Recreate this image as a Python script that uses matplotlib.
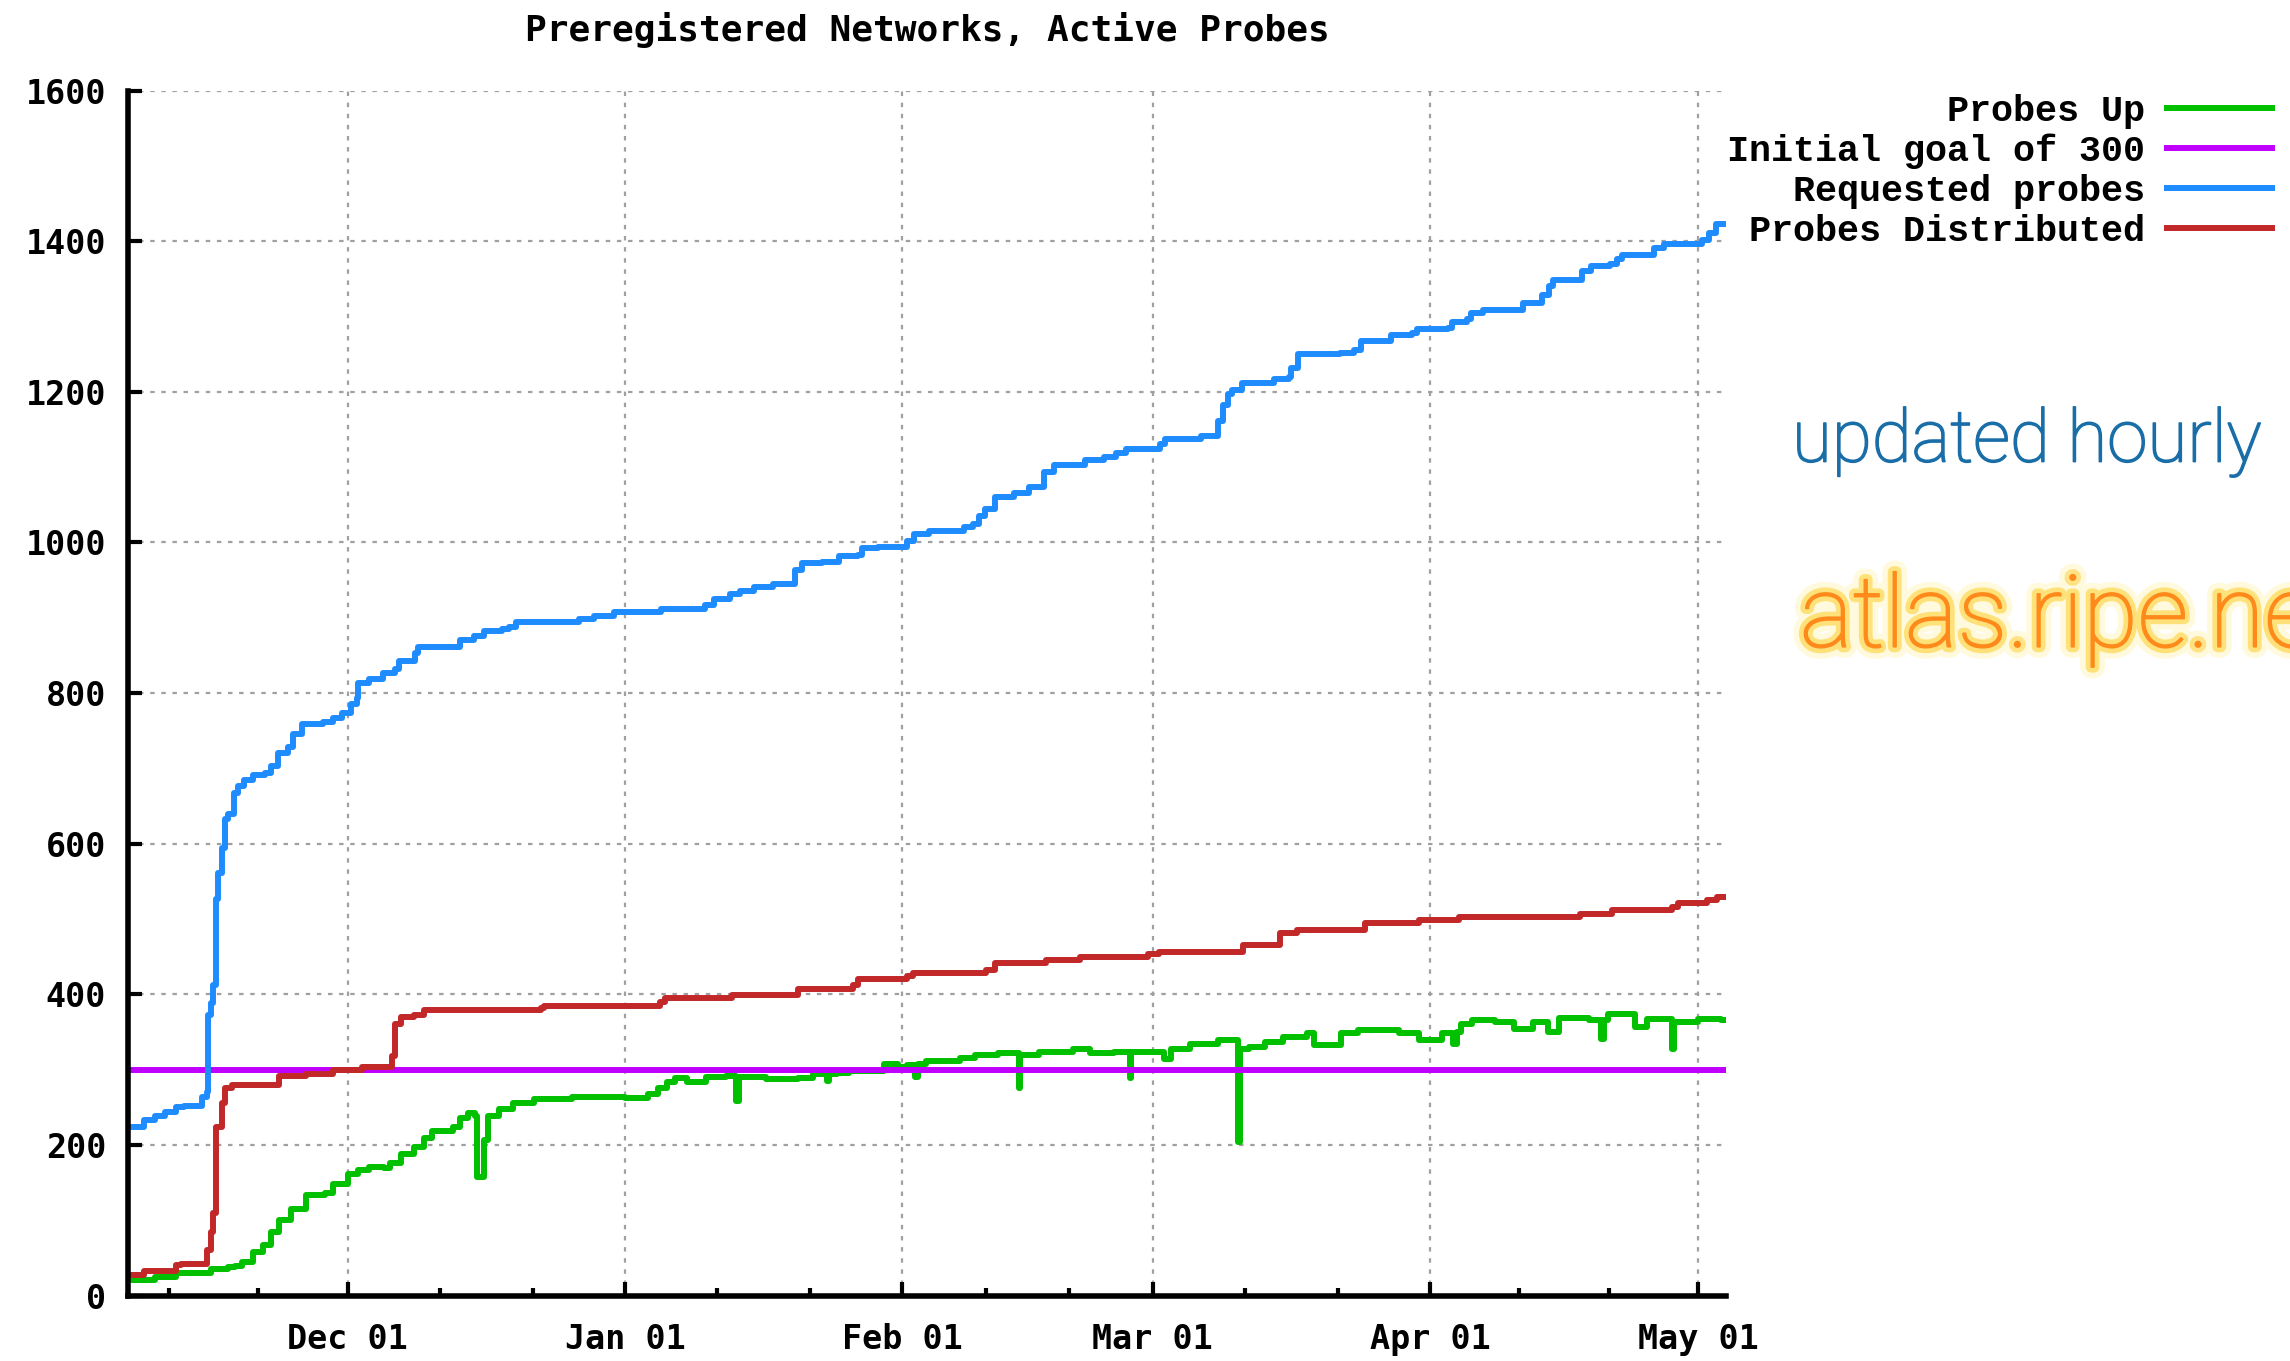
import numpy as np
import pandas as pd
import matplotlib.pyplot as plt
import matplotlib.dates as mdates
import matplotlib.patheffects as pe

# datos (hora aproximada, valor)
probes_up_dates = [
    '2010-11-06 12:00', '2010-11-09 10:00', '2010-11-11 19:00', '2010-11-15 17:00',
    '2010-11-17 16:00', '2010-11-18 10:00', '2010-11-19 05:00', '2010-11-20 10:00',
    '2010-11-21 14:00', '2010-11-22 10:00', '2010-11-23 08:00', '2010-11-24 17:00',
    '2010-11-26 07:00', '2010-11-28 11:00', '2010-11-29 10:00', '2010-12-01 00:00',
    '2010-12-02 05:00', '2010-12-03 08:00', '2010-12-05 02:00', '2010-12-05 17:00',
    '2010-12-06 22:00', '2010-12-08 11:00', '2010-12-09 14:00', '2010-12-10 10:00',
    '2010-12-12 19:00', '2010-12-13 14:00', '2010-12-14 12:00', '2010-12-15 07:00',
    '2010-12-15 11:00', '2010-12-16 07:00', '2010-12-16 17:00', '2010-12-17 22:00',
    '2010-12-19 11:00', '2010-12-21 19:00', '2010-12-26 02:00', '2011-01-01 00:00',
    '2011-01-03 13:00', '2011-01-04 16:00', '2011-01-05 18:00', '2011-01-06 14:00',
    '2011-01-07 22:00', '2011-01-10 02:00', '2011-01-12 08:00', '2011-01-13 11:00',
    '2011-01-13 17:00', '2011-01-16 18:00', '2011-01-20 07:00', '2011-01-22 00:00',
    '2011-01-23 13:00', '2011-01-23 19:00', '2011-01-24 16:00', '2011-01-26 00:00',
    '2011-01-29 22:00', '2011-01-31 12:00', '2011-02-01 12:00', '2011-02-02 10:00',
    '2011-02-02 19:00', '2011-02-03 16:00', '2011-02-07 10:00', '2011-02-09 02:00',
    '2011-02-11 16:00', '2011-02-14 00:00', '2011-02-14 05:00', '2011-02-16 07:00',
    '2011-02-20 02:00', '2011-02-22 00:00', '2011-02-24 17:00', '2011-02-26 10:00',
    '2011-02-26 14:00', '2011-03-02 05:00', '2011-03-03 02:00', '2011-03-05 05:00',
    '2011-03-08 07:00', '2011-03-10 12:00', '2011-03-10 19:00', '2011-03-11 17:00',
    '2011-03-13 12:00', '2011-03-15 14:00', '2011-03-18 05:00', '2011-03-19 02:00',
    '2011-03-22 02:00', '2011-03-23 22:00', '2011-03-28 14:00', '2011-03-30 19:00',
    '2011-04-02 08:00', '2011-04-03 14:00', '2011-04-04 00:00', '2011-04-04 12:00',
    '2011-04-05 17:00', '2011-04-08 06:00', '2011-04-10 10:00', '2011-04-12 12:00',
    '2011-04-14 05:00', '2011-04-15 10:00', '2011-04-18 19:00', '2011-04-20 02:00',
    '2011-04-20 12:00', '2011-04-20 22:00', '2011-04-23 22:00', '2011-04-25 05:00',
    '2011-04-28 02:00', '2011-04-28 07:00', '2011-05-01 00:00', '2011-05-03 12:00',
    '2011-05-04 02:00',
]
probes_up = [
    21, 25, 30, 35, 38, 39, 45, 58, 67, 85, 100, 115, 133, 136, 148, 161,
    167, 171, 170, 176, 188, 197, 209, 218, 224, 236, 242, 239, 157, 206, 239, 248,
    255, 261, 264, 262, 267, 276, 284, 289, 284, 290, 292, 258, 290, 287, 289, 294,
    285, 294, 296, 298, 307, 303, 306, 290, 307, 311, 316, 320, 322, 276, 320, 324,
    327, 322, 324, 289, 324, 314, 328, 334, 339, 204, 328, 330, 337, 343, 348, 332,
    349, 352, 348, 339, 348, 334, 350, 361, 366, 363, 354, 363, 350, 368, 366, 341,
    366, 374, 357, 367, 328, 363, 367, 366, 366,
]

goal = 300

requested_dates = [
    '2010-11-06 12:00', '2010-11-08 05:00', '2010-11-09 10:00', '2010-11-10 14:00',
    '2010-11-11 19:00', '2010-11-12 18:00', '2010-11-14 17:00', '2010-11-15 07:00',
    '2010-11-15 10:00', '2010-11-15 17:00', '2010-11-16 00:00', '2010-11-16 07:00',
    '2010-11-16 13:00', '2010-11-16 22:00', '2010-11-17 07:00', '2010-11-17 16:00',
    '2010-11-18 06:00', '2010-11-18 19:00', '2010-11-19 10:00', '2010-11-20 10:00',
    '2010-11-21 19:00', '2010-11-22 10:00', '2010-11-23 04:00', '2010-11-24 07:00',
    '2010-11-24 22:00', '2010-11-25 22:00', '2010-11-28 06:00', '2010-11-29 10:00',
    '2010-11-30 10:00', '2010-12-01 10:00', '2010-12-02 00:00', '2010-12-02 05:00',
    '2010-12-03 08:00', '2010-12-04 22:00', '2010-12-06 07:00', '2010-12-06 17:00',
    '2010-12-08 12:00', '2010-12-08 20:00', '2010-12-13 14:00', '2010-12-15 02:00',
    '2010-12-16 07:00', '2010-12-18 07:00', '2010-12-19 01:00', '2010-12-19 20:00',
    '2010-12-26 22:00', '2010-12-28 12:00', '2010-12-30 19:00', '2011-01-05 02:00',
    '2011-01-09 22:00', '2011-01-11 00:00', '2011-01-12 19:00', '2011-01-13 22:00',
    '2011-01-15 10:00', '2011-01-17 14:00', '2011-01-20 00:00', '2011-01-20 20:00',
    '2011-01-23 01:00', '2011-01-24 22:00', '2011-01-27 02:00', '2011-01-27 12:00',
    '2011-01-29 07:00', '2011-02-01 14:00', '2011-02-02 07:00', '2011-02-04 00:00',
    '2011-02-07 22:00', '2011-02-08 22:00', '2011-02-09 14:00', '2011-02-10 07:00',
    '2011-02-11 10:00', '2011-02-13 13:00', '2011-02-15 05:00', '2011-02-16 19:00',
    '2011-02-17 22:00', '2011-02-21 10:00', '2011-02-23 14:00', '2011-02-24 22:00',
    '2011-02-26 00:00', '2011-03-01 19:00', '2011-03-02 08:00', '2011-03-06 10:00',
    '2011-03-08 07:00', '2011-03-08 20:00', '2011-03-09 10:00', '2011-03-09 22:00',
    '2011-03-11 00:00', '2011-03-14 13:00', '2011-03-16 05:00', '2011-03-16 11:00',
    '2011-03-17 07:00', '2011-03-21 22:00', '2011-03-23 12:00', '2011-03-24 07:00',
    '2011-03-27 14:00', '2011-03-30 00:00', '2011-03-30 12:00', '2011-04-03 00:00',
    '2011-04-03 12:00', '2011-04-05 02:00', '2011-04-05 14:00', '2011-04-06 22:00',
    '2011-04-11 10:00', '2011-04-13 12:00', '2011-04-14 07:00', '2011-04-14 19:00',
    '2011-04-18 00:00', '2011-04-19 00:00', '2011-04-21 02:00', '2011-04-21 22:00',
    '2011-04-22 10:00', '2011-04-26 02:00', '2011-04-27 05:00', '2011-05-01 10:00',
    '2011-05-02 05:00', '2011-05-03 00:00', '2011-05-04 02:00',
]
requested = [
    224, 233, 238, 244, 250, 252, 264, 270, 373, 388, 412, 527,
    561, 594, 633, 639, 667, 676, 685, 691, 694, 703, 721, 728,
    745, 759, 761, 767, 773, 785, 794, 813, 819, 827, 832, 842,
    853, 861, 870, 876, 882, 885, 888, 894, 898, 902, 907, 912,
    917, 925, 931, 936, 941, 945, 964, 972, 974, 982, 983, 992,
    994, 1002, 1011, 1015, 1021, 1025, 1035, 1045, 1060, 1066, 1073, 1093,
    1103, 1109, 1113, 1119, 1124, 1130, 1137, 1141, 1161, 1183, 1197, 1202,
    1212, 1217, 1219, 1232, 1250, 1252, 1256, 1268, 1276, 1278, 1283, 1285,
    1293, 1296, 1305, 1309, 1318, 1329, 1340, 1348, 1360, 1367, 1369, 1376,
    1381, 1391, 1396, 1402, 1411, 1423, 1423,
]

distributed_dates = [
    '2010-11-06 12:00', '2010-11-08 05:00', '2010-11-11 19:00', '2010-11-12 10:00',
    '2010-11-15 07:00', '2010-11-15 17:00', '2010-11-16 00:00', '2010-11-16 07:00',
    '2010-11-16 22:00', '2010-11-17 07:00', '2010-11-18 01:00', '2010-11-23 08:00',
    '2010-11-26 07:00', '2010-11-29 10:00', '2010-12-02 14:00', '2010-12-05 17:00',
    '2010-12-05 22:00', '2010-12-06 07:00', '2010-12-06 22:00', '2010-12-08 11:00',
    '2010-12-09 14:00', '2010-12-22 14:00', '2010-12-23 00:00', '2011-01-04 22:00',
    '2011-01-05 12:00', '2011-01-13 00:00', '2011-01-20 07:00', '2011-01-26 12:00',
    '2011-01-27 02:00', '2011-02-01 12:00', '2011-02-02 05:00', '2011-02-10 10:00',
    '2011-02-11 10:00', '2011-02-17 02:00', '2011-02-20 22:00', '2011-02-28 12:00',
    '2011-03-01 18:00', '2011-03-11 02:00', '2011-03-15 05:00', '2011-03-17 02:00',
    '2011-03-24 17:00', '2011-03-30 19:00', '2011-04-04 06:00', '2011-04-17 19:00',
    '2011-04-21 07:00', '2011-04-28 02:00', '2011-04-28 17:00', '2011-05-02 00:00',
    '2011-05-03 02:00', '2011-05-04 02:00',
]
distributed = [
    27, 32, 40, 42, 61, 85, 109, 224, 255, 276, 280, 291,
    294, 300, 303, 304, 318, 361, 370, 373, 379, 382, 385, 390,
    395, 399, 407, 412, 420, 424, 428, 432, 441, 445, 450, 453,
    456, 465, 481, 485, 494, 498, 503, 507, 512, 516, 521, 525,
    529, 529,
]

labels = ['Probes Up', 'Initial goal of 300', 'Requested probes', 'Probes Distributed']
colores = ['#00c000', '#c000ff', '#1e8cff', '#c22828']
y_ticks = [0, 200, 400, 600, 800, 1000, 1200, 1400, 1600]
x_inicio, x_fin = '2010-11-06 12:00', '2011-05-04 02:00'

mono = 'DejaVu Sans Mono'

fig = plt.figure(figsize=(22.9, 13.61), dpi=100)
ax = fig.add_axes([0.0561, 0.0481, 0.6976, 0.8854])

lw = 4.3
ax.plot(pd.to_datetime(probes_up_dates), probes_up, drawstyle='steps-post',
        color=colores[0], lw=lw, label=labels[0])
ax.axhline(goal, color=colores[1], lw=lw, label=labels[1])
ax.plot(pd.to_datetime(requested_dates), requested, drawstyle='steps-post',
        color=colores[2], lw=lw, label=labels[2])
ax.plot(pd.to_datetime(distributed_dates), distributed, drawstyle='steps-post',
        color=colores[3], lw=lw, label=labels[3])

ax.set_yticks(y_ticks)

# ticks mayores en cada mes, menores en tercios del mes
ax.xaxis.set_major_locator(mdates.MonthLocator())
ax.xaxis.set_major_formatter(mdates.DateFormatter('%b %d'))
meses = pd.date_range('2010-11-01', '2011-06-01', freq='MS')
menores = []
for a, b in zip(meses[:-1], meses[1:]):
    menores += [a + (b - a) / 3, a + 2 * (b - a) / 3]
ax.set_xticks(menores, minor=True)

# limites despues de los ticks (set_xticks los amplia)
ax.set_xlim(pd.Timestamp(x_inicio), pd.Timestamp(x_fin))
ax.set_ylim(0, 1600)

ax.grid(True, which='major', color='#a0a0a0', linestyle=(0, (2, 3)), lw=1.6)
for s in ['top', 'right']:
    ax.spines[s].set_visible(False)
for s in ['left', 'bottom']:
    ax.spines[s].set_linewidth(4)

ax.tick_params(which='major', direction='in', length=10, width=3, pad=20,
               labelsize=24)
ax.tick_params(which='minor', direction='in', length=6, width=3)
ax.tick_params(axis='y', pad=16)
for t in ax.get_xticklabels() + ax.get_yticklabels():
    t.set_fontfamily(mono)
    t.set_fontweight('bold')

ax.set_title('Preregistered Networks, Active Probes', fontfamily=mono,
             fontweight='bold', fontsize=26, pad=36)

leg = ax.legend(loc='upper right', bbox_to_anchor=(0.992, 0.931),
                bbox_transform=fig.transFigure, frameon=False, markerfirst=False,
                prop={'family': 'Liberation Mono', 'weight': 'bold', 'size': 26.5},
                handlelength=2.85, handletextpad=0.6, labelspacing=0.13,
                borderaxespad=0, borderpad=0)

# textos de la diapositiva (light con un poco de trazo)
azul = '#1a6ea8'
fig.text(0.7825, 0.675, 'updated hourly', fontsize=52.5, color=azul,
         fontfamily='Roboto', fontweight='light', va='center', ha='left',
         path_effects=[pe.withStroke(linewidth=1.2, foreground=azul)])

naranja = '#ff8a1c'
fig.text(0.786, 0.545, 'atlas.ripe.net', fontsize=72, color=naranja,
         fontfamily='Roboto', fontweight='light', va='center', ha='left',
         path_effects=[pe.withStroke(linewidth=16, foreground='#fff2a0', alpha=0.35),
                       pe.withStroke(linewidth=8, foreground='#ffd445', alpha=0.65),
                       pe.withStroke(linewidth=1.2, foreground=naranja)])

fig.savefig('out.png', dpi=100)
